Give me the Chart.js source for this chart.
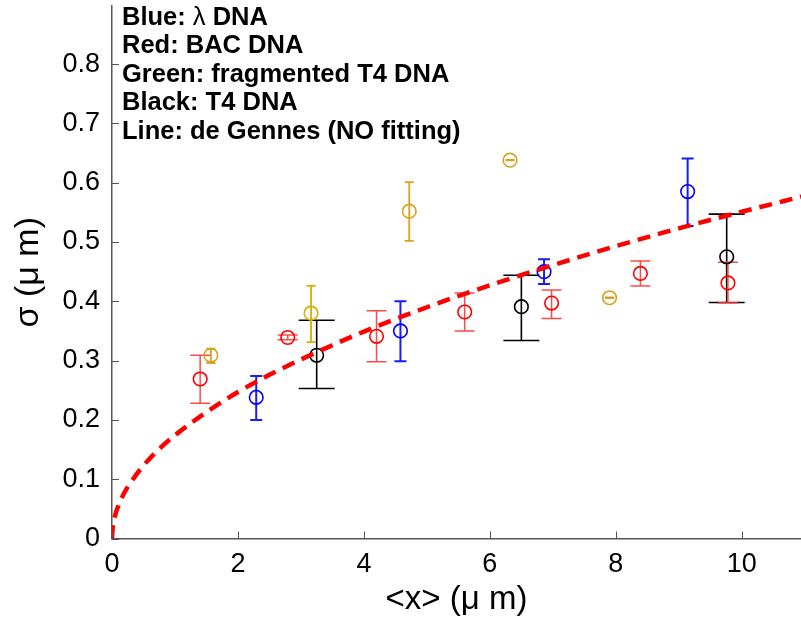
<!DOCTYPE html>
<html>
<head>
<meta charset="utf-8">
<script src="https://cdn.jsdelivr.net/npm/chart.js@4.4.1/dist/chart.umd.min.js"></script>
<style>
html, body { margin: 0; padding: 0; background: #fff; }
</style>
</head>
<body>
<canvas id="c" width="801" height="622"></canvas>
<script>
// values
var blueX = [2.29, 4.58, 6.86, 9.14];
var blueY = [0.238, 0.350, 0.450, 0.585];
var blueLo = [0.200, 0.299, 0.429, 0.527];
var blueHi = [0.274, 0.400, 0.471, 0.641];

var redX = [1.40, 2.79, 4.20, 5.60, 6.98, 8.39, 9.78];
var redY = [0.269, 0.339, 0.341, 0.382, 0.397, 0.447, 0.431];
var redLo = [0.228, 0.335, 0.298, 0.350, 0.371, 0.426, 0.397];
var redHi = [0.309, 0.343, 0.384, 0.414, 0.419, 0.468, 0.466];

var goldX = [1.57, 3.16, 4.72, 6.32, 7.90];
var goldY = [0.309, 0.380, 0.552, 0.638, 0.406];
var goldLo = [0.296, 0.331, 0.502, 0.6375, 0.4055];
var goldHi = [0.320, 0.426, 0.601, 0.6385, 0.4065];

var blackX = [3.25, 6.50, 9.76];
var blackY = [0.309, 0.391, 0.475];
var blackLo = [0.253, 0.334, 0.398];
var blackHi = [0.368, 0.444, 0.547];

// de Gennes curve
var curveX = [0, 0.01, 0.05, 0.1, 0.2, 0.3, 0.5, 0.75, 1, 1.5, 2, 2.5, 3, 3.5, 4, 5, 6, 7, 8, 9, 10, 11];
var curveY = [0, 0.017, 0.039, 0.055, 0.078, 0.095, 0.123, 0.151, 0.174, 0.213, 0.247, 0.276, 0.302, 0.326, 0.349, 0.390, 0.427, 0.461, 0.493, 0.523, 0.551, 0.578];

var notes = ["Blue: \u03bb DNA", "Red: BAC DNA", "Green: fragmented T4 DNA", "Black: T4 DNA", "Line: de Gennes (NO fitting)"];

var FONT = "'Liberation Sans', Arial, sans-serif";

function pts(xs, ys) {
    var out = [];
    for (var i = 0; i < xs.length; i++) out.push({x: xs[i], y: ys[i]});
    return out;
}

function series(label, xs, ys, lo, hi, color, barColor, capW, barW) {
    return {
        type: 'scatter',
        label: label,
        data: pts(xs, ys),
        showLine: false,
        pointStyle: 'circle',
        pointRadius: 6.8,
        pointBorderWidth: 1.6,
        borderColor: color,
        backgroundColor: 'rgba(0,0,0,0)',
        errLo: lo, errHi: hi,
        barColor: barColor, capW: capW, barW: barW,
        order: 2
    };
}

// error bars, drawn under the circles
var errorBars = {
    id: 'errorBars',
    beforeDatasetsDraw: function(chart) {
        var ctx = chart.ctx, xs = chart.scales.x, ys = chart.scales.y;
        ctx.save();
        chart.data.datasets.forEach(function(ds) {
            if (!ds.errLo) return;
            ds.data.forEach(function(p, i) {
                var px = xs.getPixelForValue(p.x);
                var lo = ys.getPixelForValue(ds.errLo[i]);
                var hi = ys.getPixelForValue(ds.errHi[i]);
                var col = Array.isArray(ds.barColor) ? ds.barColor[i] : ds.barColor;
                ctx.strokeStyle = col;
                ctx.lineWidth = ds.barW;
                ctx.beginPath();
                ctx.moveTo(px, lo); ctx.lineTo(px, hi);
                ctx.moveTo(px - ds.capW / 2, lo); ctx.lineTo(px + ds.capW / 2, lo);
                ctx.moveTo(px - ds.capW / 2, hi); ctx.lineTo(px + ds.capW / 2, hi);
                ctx.stroke();
            });
        });
        ctx.restore();
    }
};

// MATLAB style ticks pointing into the plot, plus the text block
var decor = {
    id: 'decor',
    afterDraw: function(chart) {
        var ctx = chart.ctx, a = chart.chartArea;
        ctx.save();
        ctx.strokeStyle = '#555';
        ctx.lineWidth = 1;
        ctx.beginPath();
        chart.scales.x.ticks.forEach(function(t) {
            var px = Math.round(chart.scales.x.getPixelForValue(t.value)) + 0.5;
            ctx.moveTo(px, a.bottom); ctx.lineTo(px, a.bottom - 7);
        });
        chart.scales.y.ticks.forEach(function(t) {
            var py = Math.round(chart.scales.y.getPixelForValue(t.value)) + 0.5;
            ctx.moveTo(a.left, py); ctx.lineTo(a.left + 7, py);
        });
        ctx.stroke();

        ctx.fillStyle = '#000';
        ctx.textBaseline = 'middle';
        ctx.textAlign = 'left';
        notes.forEach(function(s, i) {
            var y = 18 + i * 28.4;
            var x = a.left + 10;
            var parts = s.split('\u03bb');
            for (var k = 0; k < parts.length; k++) {
                ctx.font = 'bold 25.5px ' + FONT;
                ctx.fillText(parts[k], x, y);
                x += ctx.measureText(parts[k]).width;
                if (k < parts.length - 1) {
                    ctx.font = '25.5px ' + FONT;
                    ctx.fillText('\u03bb', x, y);
                    x += ctx.measureText('\u03bb').width;
                }
            }
        });
        ctx.restore();
    }
};

var datasets = [
    {
        type: 'line',
        label: 'de Gennes',
        data: pts(curveX, curveY),
        borderColor: '#ff0000',
        borderWidth: 4.5,
        borderDash: [13, 8],
        pointRadius: 0,
        fill: false,
        cubicInterpolationMode: 'monotone',
        order: 0
    },
    series('T4 DNA', blackX, blackY, blackLo, blackHi, '#000000', '#000000', 36, 1.6),
    series('fragmented T4 DNA', goldX, goldY, goldLo, goldHi,
        ['#d9a21c', '#d4b000', '#d9a21c', '#d9a21c', '#d9a21c'],
        ['#d9a21c', '#d4b000', '#d9a21c', '#d9a21c', '#d9a21c'], 9, 1.8),
    series('BAC DNA', redX, redY, redLo, redHi, '#ff0000', '#ff4a4a', 20, 1.5),
    series('lambda DNA', blueX, blueY, blueLo, blueHi, '#0000ff', '#1a1aff', 12, 2)
];

new Chart(document.getElementById('c').getContext('2d'), {
    data: {datasets: datasets},
    options: {
        responsive: false,
        animation: false,
        layout: {autoPadding: false, padding: {top: 6, right: 0, left: 0, bottom: 0}},
        plugins: {legend: {display: false}, tooltip: {enabled: false}},
        scales: {
            x: {
                type: 'linear',
                min: 0, max: 10.94,
                grid: {display: false, drawTicks: false},
                border: {display: true, color: '#555', width: 1.5},
                ticks: {stepSize: 2, includeBounds: false, padding: 10, color: '#000', font: {family: FONT, size: 27}},
                afterBuildTicks: function(s) { s.ticks = s.ticks.filter(function(t) { return Math.abs(t.value / 2 - Math.round(t.value / 2)) < 1e-6; }); },
                afterFit: function(s) { s.height = 83.5; s.paddingLeft = 0; s.paddingRight = 0; },
                title: {display: true, text: '<x> (\u03bc m)', color: '#000', font: {family: FONT, size: 33}, padding: {top: 0, bottom: 2}}
            },
            y: {
                type: 'linear',
                min: 0, max: 0.898,
                grid: {display: false, drawTicks: false},
                border: {display: true, color: '#555', width: 1.5},
                ticks: {stepSize: 0.1, includeBounds: false, padding: 12, color: '#000', font: {family: FONT, size: 27}},
                afterBuildTicks: function(s) { s.ticks = s.ticks.filter(function(t) { return t.value < 0.85; }); },
                afterFit: function(s) { s.width = 112; s.paddingTop = 0; s.paddingBottom = 0; },
                title: {display: true, text: '\u03c3 (\u03bc m)', color: '#000', font: {family: FONT, size: 34}, padding: {top: 8, bottom: 0}}
            }
        }
    },
    plugins: [errorBars, decor]
});
</script>
</body>
</html>
